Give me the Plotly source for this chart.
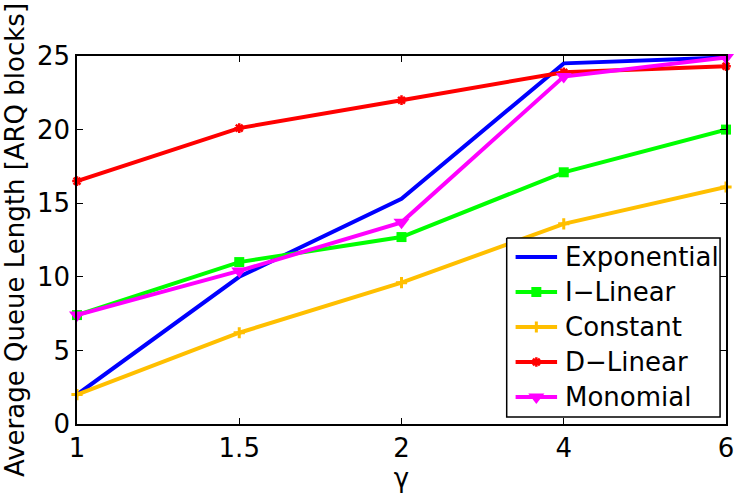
import plotly.graph_objects as go

# gamma values (shown as evenly spaced categories)
gamma = ["1", "1.5", "2", "4", "6"]

# average queue length per scheme [ARQ blocks]
exponential = [2.0, 10.0, 15.3, 24.5, 24.9]
i_linear = [7.4, 11.0, 12.7, 17.1, 20.0]
constant = [2.0, 6.2, 9.6, 13.6, 16.1]
d_linear = [16.5, 20.1, 22.0, 23.9, 24.3]
monomial = [7.4, 10.4, 13.7, 23.6, 24.9]

y_ticks = [0, 5, 10, 15, 20, 25]

FONT = "DejaVu Sans"
W, H = 742, 495
L, R, T, B = 77, 8, 56, 71
PX0, PX1 = L, W - R          # plot area in pixels
PY0, PY1 = T, H - B

series = [
    ("Exponential", exponential, "#0000FF", None),
    ("I\u2212Linear", i_linear, "#00FF00", dict(symbol="square", size=10)),
    ("Constant", constant, "#FFBF00", dict(symbol="cross-thin", size=8,
                                            line=dict(width=3, color="#FFBF00"))),
    ("D\u2212Linear", d_linear, "#FF0000", dict(symbol="asterisk", size=8,
                                              line=dict(width=2.5, color="#FF0000"))),
    ("Monomial", monomial, "#FF00FF", dict(symbol="triangle-down", size=14)),
]

fig = go.Figure()
for name, vals, color, marker in series:
    if marker is None:
        fig.add_trace(go.Scatter(x=gamma, y=vals, name=name, mode="lines",
                                 line=dict(color=color, width=4),
                                 cliponaxis=False, showlegend=False))
    else:
        mk = dict(color=color)
        mk.update(marker)
        fig.add_trace(go.Scatter(x=gamma, y=vals, name=name, mode="lines+markers",
                                 line=dict(color=color, width=4), marker=mk,
                                 cliponaxis=False, showlegend=False))

# legend drawn on a hidden overlay axis measured in pixels
BOX = (512, 728, 238, 417)
ROW0, ROW_STEP = 257, 35
LINE_X0, LINE_X1, TEXT_X = 521, 563, 569

bx0, bx1, by0, by1 = BOX
fig.add_trace(go.Scatter(
    x=[bx0, bx1, bx1, bx0, bx0], y=[by0, by0, by1, by1, by0],
    xaxis="x2", yaxis="y2", mode="lines", fill="toself", fillcolor="white",
    line=dict(color="black", width=1.5), hoverinfo="skip", showlegend=False,
))
annotations = []
for i, (name, vals, color, marker) in enumerate(series):
    ry = ROW0 + i * ROW_STEP
    fig.add_trace(go.Scatter(
        x=[LINE_X0, LINE_X1], y=[ry, ry], xaxis="x2", yaxis="y2", mode="lines",
        line=dict(color=color, width=4), hoverinfo="skip", showlegend=False,
    ))
    if marker is not None:
        mk = dict(color=color)
        mk.update(marker)
        fig.add_trace(go.Scatter(
            x=[(LINE_X0 + LINE_X1) / 2], y=[ry], xaxis="x2", yaxis="y2",
            mode="markers", marker=mk, hoverinfo="skip", showlegend=False,
        ))
    annotations.append(dict(
        x=(TEXT_X - PX0) / (PX1 - PX0), y=(PY1 - ry) / (PY1 - PY0),
        xref="paper", yref="paper", xanchor="left", yanchor="middle",
        text=name, showarrow=False,
        font=dict(family=FONT, size=26, color="black"),
    ))

axis_common = dict(
    ticks="inside", ticklen=6, tickwidth=1, tickcolor="black",
    showline=True, linecolor="black", linewidth=1.5, mirror="ticks",
    showgrid=False, zeroline=False,
    tickfont=dict(family=FONT, size=26),
)

fig.update_layout(
    width=W, height=H,
    margin=dict(l=L, r=R, t=T, b=B),
    paper_bgcolor="white", plot_bgcolor="white",
    font=dict(family=FONT, size=26, color="black"),
    showlegend=False,
    annotations=annotations,
    xaxis=dict(
        type="category", range=[0, 4],
        tickmode="array", tickvals=gamma, ticktext=gamma,
        title=dict(text="\u03b3", font=dict(family=FONT, size=26), standoff=2),
        **axis_common,
    ),
    yaxis=dict(
        range=[0, 25], tickvals=y_ticks,
        title=dict(text="Average Queue Length [ARQ blocks]",
                   font=dict(family=FONT, size=26), standoff=6),
        **axis_common,
    ),
    xaxis2=dict(overlaying="x", range=[PX0, PX1], visible=False,
                fixedrange=True),
    yaxis2=dict(overlaying="y", range=[PY1, PY0], visible=False,
                fixedrange=True),
)

fig.write_html("out.html")
